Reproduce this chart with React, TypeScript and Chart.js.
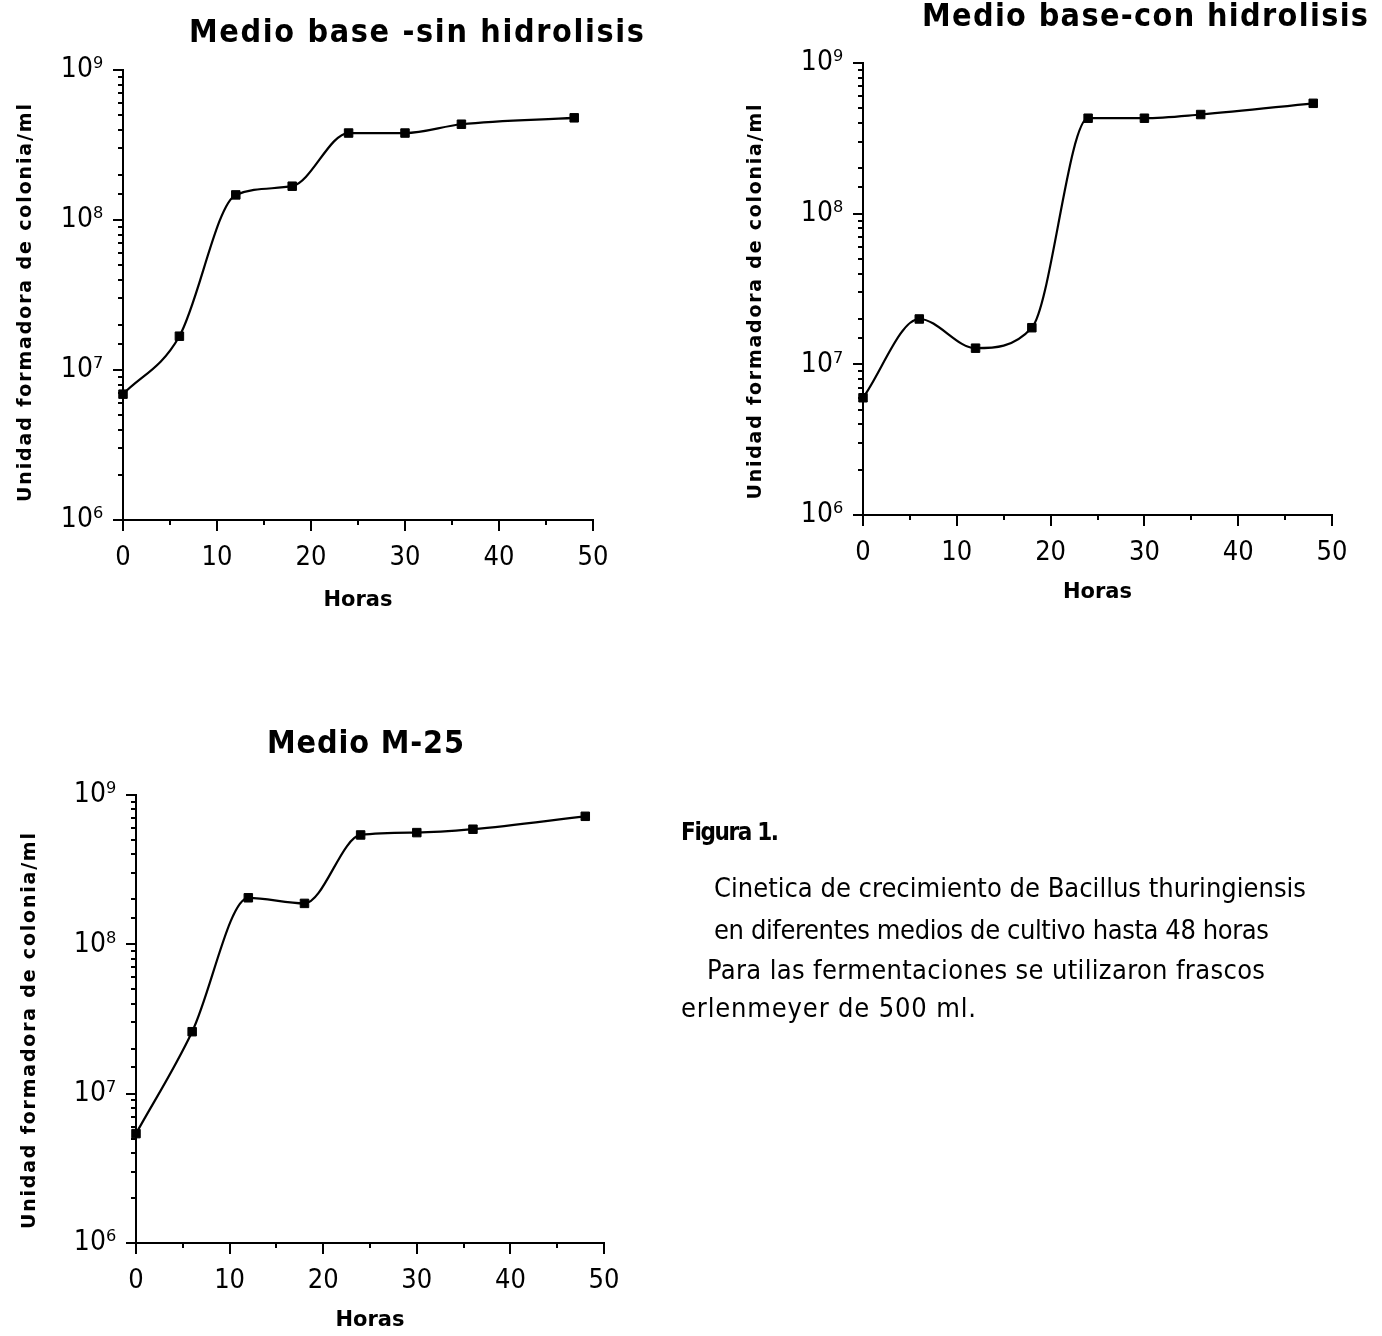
import React, { useEffect, useRef } from 'react';
import { Chart, registerables } from 'chart.js';

Chart.register(...registerables);

// ---- data ----
const hours = [0, 6, 12, 18, 24, 30, 36, 48];
const sinHidrolisis = [6.9e6, 1.68e7, 1.47e8, 1.68e8, 3.8e8, 3.8e8, 4.35e8, 4.8e8];
const conHidrolisis = [6.0e6, 2.0e7, 1.28e7, 1.75e7, 4.3e8, 4.3e8, 4.55e8, 5.4e8];
const medioM25 = [5.4e6, 2.6e7, 2.05e8, 1.88e8, 5.4e8, 5.6e8, 5.9e8, 7.2e8];
const xMin = 0;
const xMax = 50;
const xStep = 5;
const yMin = 1e6;
const yMax = 1e9;
const superscripts: Record<number, string> = { 6: '\u2076', 7: '\u2077', 8: '\u2078', 9: '\u2079' };

const titles = ['Medio base -sin hidrolisis', 'Medio base-con hidrolisis', 'Medio M-25'];
const yTitle = 'Unidad formadora de colonia/ml';
const xTitle = 'Horas';
const captionHead = 'Figura 1.';
const captionLines = [
  'Cinetica de crecimiento de Bacillus thuringiensis',
  'en diferentes medios de cultivo hasta 48 horas',
  'Para las fermentaciones se utilizaron frascos',
  'erlenmeyer de 500 ml.',
];

const NARROW = '"DejaVu Sans Condensed", "Liberation Sans Narrow", "Liberation Sans", sans-serif';
const BOLD = '"DejaVu Sans", "Liberation Sans", sans-serif';

const isDecade = (v: number) => {
  const e = Math.log10(v);
  return Math.abs(e - Math.round(e)) < 1e-9;
};

const tickMarks = {
  id: 'tickMarks',
  afterDraw(chart: any) {
    const { ctx, chartArea } = chart;
    const xs = chart.scales.x;
    const ys = chart.scales.y;
    ctx.save();
    ctx.strokeStyle = '#000';
    ctx.lineWidth = 2;
    ys.ticks.forEach((t: any) => {
      const p = Math.round(ys.getPixelForValue(t.value));
      const len = isDecade(t.value) ? 10 : 5;
      ctx.beginPath();
      ctx.moveTo(chartArea.left, p);
      ctx.lineTo(chartArea.left - len, p);
      ctx.stroke();
    });
    xs.ticks.forEach((t: any) => {
      const p = Math.round(xs.getPixelForValue(t.value));
      const len = t.value % 10 === 0 ? 11 : 5;
      ctx.beginPath();
      ctx.moveTo(p, chartArea.bottom);
      ctx.lineTo(p, chartArea.bottom + len);
      ctx.stroke();
    });
    ctx.restore();
  },
};

type Lay = { top: number; right: number; bottom: number; yW: number; xH: number };

function makeConfig(values: number[], lay: Lay): any {
  return {
    type: 'line',
    data: {
      datasets: [
        {
          data: hours.map((h, i) => ({ x: h, y: values[i] })),
          borderColor: '#000',
          backgroundColor: '#000',
          borderWidth: 2.2,
          pointStyle: 'rect',
          pointRadius: 6,
          pointBackgroundColor: '#000',
          pointBorderColor: '#000',
          pointBorderWidth: 1,
          cubicInterpolationMode: 'monotone',
          fill: false,
          clip: 12,
        },
      ],
    },
    options: {
      responsive: false,
      animation: false,
      devicePixelRatio: 1,
      layout: { padding: { left: 0, top: lay.top, right: lay.right, bottom: lay.bottom } },
      plugins: { legend: { display: false }, tooltip: { enabled: false }, title: { display: false } },
      scales: {
        x: {
          type: 'linear',
          min: xMin,
          max: xMax,
          grid: { display: false },
          border: { display: true, color: '#000', width: 2 },
          ticks: {
            stepSize: xStep,
            autoSkip: false,
            maxRotation: 0,
            color: '#000',
            padding: 14,
            font: { family: NARROW, size: 27 },
            callback: (v: number) => (v % 10 === 0 ? String(v) : ''),
          },
          title: {
            display: true,
            text: xTitle,
            color: '#000',
            font: { family: BOLD, size: 21, weight: 'bold' },
            padding: { top: 0, bottom: 0 },
          },
          afterFit: (s: any) => {
            s.height = lay.xH;
            s.paddingLeft = 0;
            s.paddingRight = 0;
          },
        },
        y: {
          type: 'logarithmic',
          min: yMin,
          max: yMax,
          grid: { display: false },
          border: { display: true, color: '#000', width: 2 },
          ticks: {
            autoSkip: false,
            color: '#000',
            padding: 12,
            font: { family: NARROW, size: 28 },
            callback: (v: number) => (isDecade(v) ? '10' + superscripts[Math.round(Math.log10(v))] : ''),
          },
          afterFit: (s: any) => {
            s.width = lay.yW;
            s.paddingTop = 0;
            s.paddingBottom = 0;
          },
        },
      },
    },
    plugins: [tickMarks],
  };
}

function LogChart(props: { values: number[]; lay: Lay; left: number; top: number; w: number; h: number }) {
  const ref = useRef<HTMLCanvasElement | null>(null);
  useEffect(() => {
    if (!ref.current) return;
    const chart = new Chart(ref.current, makeConfig(props.values, props.lay));
    return () => chart.destroy();
  }, []);
  return (
    <canvas
      ref={ref}
      width={props.w}
      height={props.h}
      style={{ position: 'absolute', left: props.left, top: props.top, width: props.w, height: props.h }}
    />
  );
}

export default function App() {
  return (
    <div style={{ position: 'absolute', left: 0, top: 0, width: 1382, height: 1336, background: '#fff', overflow: 'hidden' }}>
      <LogChart values={sinHidrolisis} left={0} top={40} w={680} h={600} lay={{ top: 30, right: 87, bottom: 27, yW: 123, xH: 93 }} />
      <LogChart values={conHidrolisis} left={740} top={40} w={642} h={600} lay={{ top: 23, right: 50, bottom: 35, yW: 123, xH: 90 }} />
      <LogChart values={medioM25} left={0} top={760} w={680} h={576} lay={{ top: 35, right: 76, bottom: 3, yW: 136, xH: 90 }} />
      <svg width={1382} height={1336} style={{ position: 'absolute', left: 0, top: 0, pointerEvents: 'none' }}>
        <g fill="#000" fontFamily={NARROW} fontWeight="bold" fontSize={32}>
          <text x={189} y={42} textLength={455} lengthAdjust="spacing">{titles[0]}</text>
          <text x={922} y={26} textLength={446} lengthAdjust="spacing">{titles[1]}</text>
          <text x={267} y={753} textLength={197} lengthAdjust="spacing">{titles[2]}</text>
        </g>
        <g fill="#000" fontFamily={BOLD} fontWeight="bold" fontSize={19} textAnchor="middle">
          <text transform="translate(31,303) rotate(-90)" textLength={398} lengthAdjust="spacing">{yTitle}</text>
          <text transform="translate(761,302) rotate(-90)" textLength={395} lengthAdjust="spacing">{yTitle}</text>
          <text transform="translate(35,1031) rotate(-90)" textLength={396} lengthAdjust="spacing">{yTitle}</text>
        </g>
        <text x={681} y={840} fill="#000" fontFamily={NARROW} fontWeight="bold" fontSize={24} textLength={98} lengthAdjust="spacing">{captionHead}</text>
        <g fill="#000" fontFamily={NARROW} fontSize={27}>
          <text x={714} y={897} textLength={592} lengthAdjust="spacing">{captionLines[0]}</text>
          <text x={714} y={939} textLength={555} lengthAdjust="spacing">{captionLines[1]}</text>
          <text x={707} y={979} textLength={558} lengthAdjust="spacing">{captionLines[2]}</text>
          <text x={681} y={1017} textLength={295} lengthAdjust="spacing">{captionLines[3]}</text>
        </g>
      </svg>
    </div>
  );
}
